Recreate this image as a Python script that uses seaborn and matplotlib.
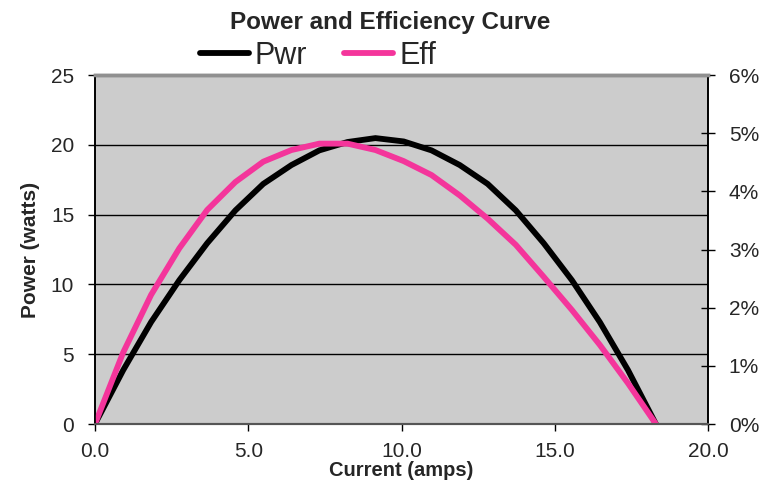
import matplotlib
matplotlib.use("Agg")
import matplotlib.pyplot as plt
import matplotlib.ticker as mticker
import seaborn as sns
import pandas as pd

current = [0.00, 0.92, 1.83, 2.75, 3.66, 4.58, 5.49, 6.41, 7.32, 8.24, 9.15,
           10.07, 10.98, 11.90, 12.81, 13.73, 14.64, 15.56, 16.47, 17.39, 18.30]
power = [0.00, 3.86, 7.30, 10.30, 12.95, 15.30, 17.20, 18.55, 19.60, 20.20, 20.48,
         20.24, 19.60, 18.55, 17.20, 15.30, 12.95, 10.30, 7.30, 3.86, 0.00]
efficiency = [0.0000, 0.0123, 0.0222, 0.0302, 0.0368, 0.0416, 0.0451, 0.0471, 0.0482, 0.0482, 0.0471,
              0.0452, 0.0428, 0.0393, 0.0353, 0.0308, 0.0253, 0.0196, 0.0136, 0.0070, 0.0000]

df = pd.DataFrame({"Current": current, "Pwr": power, "Eff": efficiency})

sns.set_style("white")
plt.rcParams["font.family"] = ["Liberation Sans", "DejaVu Sans"]

fig = plt.figure(figsize=(7.77, 4.83), dpi=100)
ax = fig.add_axes([95 / 777, 1 - 424 / 483, (708 - 95) / 777, (424 - 75) / 483])
ax.set_facecolor("#CCCCCC")

sns.lineplot(data=df, x="Current", y="Pwr", ax=ax, color="black", linewidth=4.2,
             label="Pwr", legend=False, solid_joinstyle="miter")
ax2 = ax.twinx()
sns.lineplot(data=df, x="Current", y="Eff", ax=ax2, color="#F4359B", linewidth=4.2,
             label="Eff", legend=False, solid_joinstyle="miter")

ax.set_xlim(0, 20)
ax.set_ylim(0, 25)
ax2.set_ylim(0, 0.06)
ax.set_xticks([0, 5, 10, 15, 20])
ax.set_yticks([0, 5, 10, 15, 20, 25])
ax2.set_yticks([0, 0.01, 0.02, 0.03, 0.04, 0.05, 0.06])
ax.xaxis.set_major_formatter(mticker.FormatStrFormatter("%.1f"))
ax2.yaxis.set_major_formatter(mticker.PercentFormatter(xmax=1, decimals=0))

ax.grid(False)
ax2.grid(False)
for yv in [5, 10, 15, 20]:
    ax.axhline(yv, color="black", linewidth=1.0, zorder=0.5)

ax.tick_params(axis="x", which="major", labelsize=15, direction="out", length=5,
               width=1, color="black", pad=8, bottom=True)
ax.tick_params(axis="y", which="major", labelsize=15, direction="out", length=5,
               width=1, color="black", pad=10, left=True)
ax2.tick_params(axis="y", labelsize=15, direction="inout", length=10, width=1,
                color="black", pad=10, right=True)

for a in (ax, ax2):
    a.spines["left"].set_color("black")
    a.spines["left"].set_linewidth(1.2)
    a.spines["right"].set_color("black")
    a.spines["right"].set_linewidth(1.2)
    a.spines["bottom"].set_color("#555555")
    a.spines["bottom"].set_linewidth(1.5)
    a.spines["top"].set_color("#909090")
    a.spines["top"].set_linewidth(2.5)

ax.set_xlabel("Current (amps)", fontsize=14.5, fontweight="bold", labelpad=0)
ax.set_ylabel("Power (watts)", fontsize=15, fontweight="bold", labelpad=8)
ax2.set_ylabel("")

fig.text(390 / 777, 1 - 22 / 483, "Power and Efficiency Curve", ha="center", va="center",
         fontsize=17.5, fontweight="bold")

h1, l1 = ax.get_legend_handles_labels()
h2, l2 = ax2.get_legend_handles_labels()
leg = fig.legend(h1 + h2, l1 + l2, loc="center", bbox_to_anchor=(318 / 777, 1 - 56 / 483),
                 ncol=2, frameon=False, fontsize=22, handlelength=1.6,
                 handletextpad=0.2, columnspacing=1.2, borderpad=0, borderaxespad=0)

fig.savefig("out.png", dpi=100)
